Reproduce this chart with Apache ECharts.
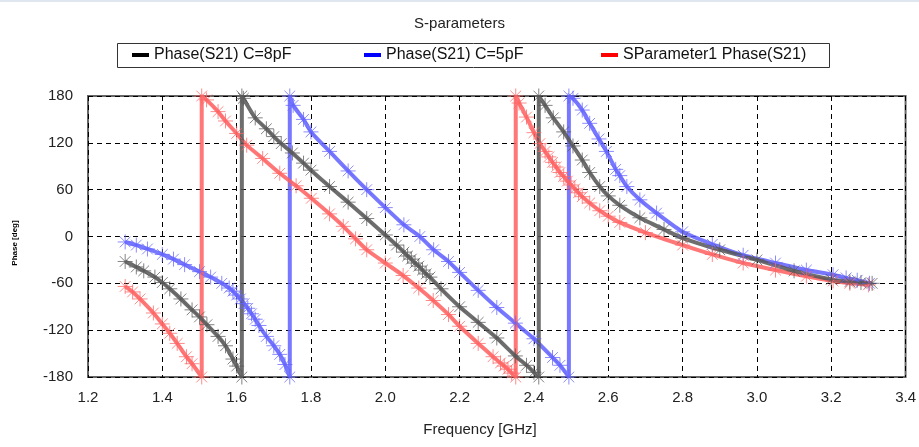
<!DOCTYPE html>
<html>
<head>
<meta charset="utf-8">
<script src="https://cdn.jsdelivr.net/npm/echarts@6/dist/echarts.min.js"></script>
<style>html,body{margin:0;padding:0;background:#fff;}#c{width:919px;height:447px;}</style>
</head>
<body>
<div id="c"></div>
<script>
// ---- data (frequency in GHz, phase in deg) ----
var xTicks = [1.2, 3.4, 0.2];
var yTicks = [-180, 180, 60];

var freq8 = [1.30,1.33,1.35,1.38,1.40,1.42,1.45,1.48,1.50,1.52,1.55,1.57,1.59,1.60,1.614,
  1.614,1.618,1.65,1.68,1.70,1.72,1.75,1.78,1.80,1.85,1.90,1.95,2.00,2.03,2.05,2.06,2.07,2.08,2.09,2.10,2.11,2.12,2.15,2.20,2.25,2.30,2.35,2.38,2.40,2.413,
  2.413,2.43,2.452,2.48,2.505,2.53,2.55,2.577,2.60,2.631,2.685,2.75,2.80,2.90,3.00,3.10,3.20,3.25,3.28,3.31];
var phase8 = [-32,-39,-44,-52,-59,-67,-80,-94,-103,-113,-128,-140,-157,-166,-180,
  180,177,152,138,128,119,107,94,85,64,44,23,2,-11,-20,-25,-29,-34,-38,-43,-48,-52,-67,-90,-110,-130,-153,-165,-174,-180,
  180,168,152,134,116,98,82,64,52,40,24,9,-2,-17,-30,-44,-55,-58,-59,-60];

var freq5 = [1.30,1.33,1.36,1.40,1.43,1.46,1.50,1.53,1.56,1.58,1.59,1.60,1.61,1.62,1.63,1.64,1.65,1.66,1.68,1.70,1.716,1.73,1.743,
  1.743,1.752,1.78,1.80,1.85,1.90,1.95,2.00,2.05,2.093,2.13,2.17,2.20,2.25,2.30,2.35,2.40,2.45,2.47,2.494,
  2.494,2.505,2.53,2.55,2.575,2.595,2.62,2.631,2.65,2.685,2.73,2.80,2.88,2.963,3.05,3.133,3.205,3.24,3.27,3.303];
var phase5 = [-7,-11,-16,-23,-29,-36,-45,-52,-60,-66,-70,-75,-80,-86,-92,-99,-106,-114,-128,-140,-151,-164,-180,
  180,168,150,134,109,84,60,37,15,0,-17,-32,-46,-69,-91,-111,-131,-155,-165,-180,
  180,177,162,145,125,109,86,78,64,47,30,6,-10,-24,-34,-43,-49,-53,-56,-60];

var freqS = [1.30,1.32,1.34,1.376,1.40,1.42,1.44,1.465,1.48,1.506,
  1.506,1.519,1.55,1.57,1.60,1.627,1.67,1.716,1.76,1.801,1.85,1.887,1.92,1.95,2.00,2.048,2.09,2.129,2.17,2.20,2.25,2.29,2.31,2.32,2.33,2.34,2.351,
  2.351,2.36,2.38,2.40,2.416,2.43,2.44,2.45,2.46,2.47,2.48,2.49,2.50,2.51,2.52,2.53,2.55,2.577,2.60,2.631,2.70,2.80,2.88,2.963,3.05,3.133,3.205,3.25,3.30];
var phaseS = [-64,-71,-80,-98,-112,-124,-137,-154,-163,-180,
  180,175,160,148,132,117,100,81,65,49,29,13,-3,-17,-34,-50,-66,-82,-100,-115,-137,-154,-162,-166,-170,-175,-180,
  180,171,153,133,119,109,102,95,89,82,77,71,66,61,56,51,43,33,26,18,5,-11,-23,-34,-43,-51,-57,-60,-62];

var names = ['Phase(S21) C=8pF', 'Phase(S21) C=5pF', 'SParameter1 Phase(S21)'];

function pairs(f, p) { return f.map(function (v, i) { return [v, p[i]]; }); }

var star = 'path://M7,0L7,14M0,7L14,7M2,2L12,12M2,12L12,2';
function mkSeries(name, data, lineColor, markColor) {
  return {
    name: name, type: 'line', data: data, smooth: 0.2,
    symbol: star, symbolSize: 15, showAllSymbol: true,
    lineStyle: { color: lineColor, width: 4 },
    itemStyle: { color: 'rgba(0,0,0,0)', borderColor: markColor, borderWidth: 1 },
    emphasis: { disabled: true }, silent: true
  };
}

var font = 'Liberation Sans, Arial, sans-serif';
var chart = echarts.init(document.getElementById('c'));
function legend(name, color, left) {
  return {
    left: left, top: 47, padding: 0, itemWidth: 17, itemHeight: 4, icon: 'rect',
    selectedMode: false,
    textStyle: { fontSize: 16, color: '#111', fontFamily: font },
    data: [{ name: name, itemStyle: { color: color, borderWidth: 0 } }]
  };
}
chart.setOption({
  animation: false,
  backgroundColor: '#fff',
  title: { text: 'S-parameters', left: 'center', top: 11, textStyle: { fontSize: 15, fontWeight: 'normal', color: '#222', fontFamily: font } },
  legend: [legend(names[0], '#000', 132), legend(names[1], '#0000ff', 364), legend(names[2], '#ff0000', 601)],
  grid: { left: 88, right: 13, top: 96, bottom: 70, show: true, borderColor: '#666', borderWidth: 2 },
  xAxis: {
    type: 'value', min: xTicks[0], max: xTicks[1], interval: xTicks[2],
    axisLine: { show: false }, axisTick: { show: false },
    axisLabel: { fontSize: 15, color: '#222', fontFamily: font, margin: 13, formatter: function (v) { return v.toFixed(1); } },
    splitLine: { show: true, lineStyle: { color: '#000', width: 1, type: [5, 4] } }
  },
  yAxis: {
    type: 'value', min: yTicks[0], max: yTicks[1], interval: yTicks[2],
    axisLine: { show: false }, axisTick: { show: false },
    axisLabel: { fontSize: 15, color: '#222', fontFamily: font, margin: 15 },
    splitLine: { show: true, lineStyle: { color: '#000', width: 1, type: [5, 4] } }
  },
  graphic: [
    { type: 'rect', shape: { x: 0, y: 0, width: 919, height: 2 }, style: { fill: '#dfe6ef' }, silent: true },
    { type: 'rect', shape: { x: 117.5, y: 43.5, width: 712, height: 24 }, style: { fill: 'none', stroke: '#333', lineWidth: 1 }, silent: true, z: -1 },
    { type: 'text', x: 480, y: 430, style: { text: 'Frequency [GHz]', fontSize: 15, fill: '#222', fontFamily: font, textAlign: 'center', textVerticalAlign: 'middle' }, silent: true },
    { type: 'text', x: 15, y: 243, rotation: Math.PI / 2, style: { text: 'Phase [deg]', fontSize: 8, fontWeight: 'bold', fill: '#000', fontFamily: font, textAlign: 'center', textVerticalAlign: 'middle' }, silent: true }
  ],
  series: [
    mkSeries(names[1], pairs(freq5, phase5), 'rgba(95,95,255,0.85)', 'rgba(100,100,255,0.75)'),
    mkSeries(names[2], pairs(freqS, phaseS), 'rgba(255,95,95,0.85)', 'rgba(255,100,100,0.75)'),
    mkSeries(names[0], pairs(freq8, phase8), 'rgba(85,85,85,0.85)', 'rgba(90,90,90,0.75)')
  ]
});
</script>
</body>
</html>
